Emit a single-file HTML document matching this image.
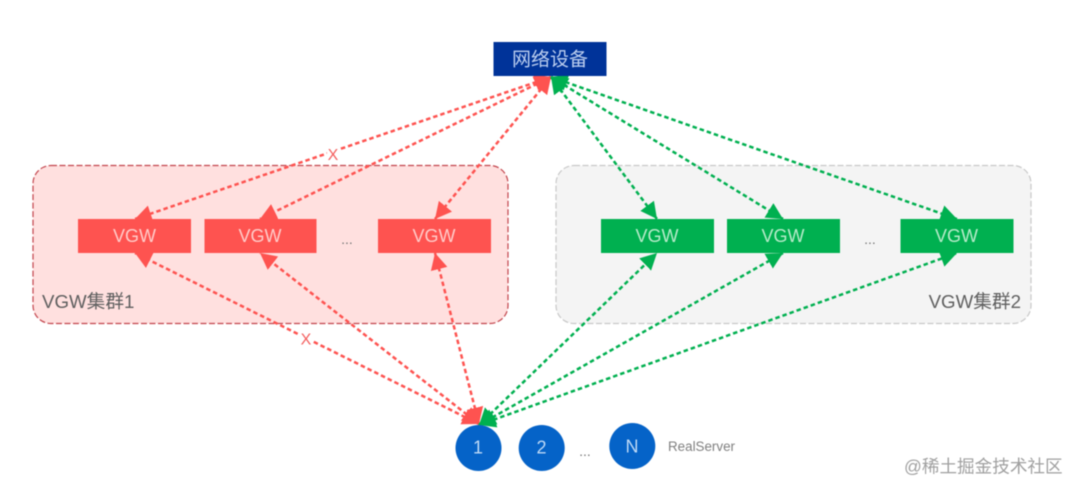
<!DOCTYPE html>
<html lang="zh">
<head>
<meta charset="utf-8">
<title>VGW集群</title>
<style>
html,body{margin:0;padding:0;background:#fff}
svg{display:block;filter:blur(.4px)}
text{font-family:"Liberation Sans","Noto Sans CJK SC",sans-serif}
</style>
</head>
<body>
<svg width="1080" height="493" viewBox="0 0 1080 493" xmlns="http://www.w3.org/2000/svg">
<defs>
<marker id="r" markerUnits="userSpaceOnUse" markerWidth="18" markerHeight="20" refX="16.500" refY="10" orient="auto-start-reverse"><path d="M0,1.500 L16.500,10 L0,18.500 Z" fill="#fe5350"/></marker>
<marker id="g" markerUnits="userSpaceOnUse" markerWidth="18" markerHeight="20" refX="16.500" refY="10" orient="auto-start-reverse"><path d="M0,1.500 L16.500,10 L0,18.500 Z" fill="#00b050"/></marker>
</defs>
<rect width="1080" height="493" fill="#fff"/>

<rect x="33" y="165.500" width="475" height="158" rx="18" fill="#ffe0df" stroke="#c2444c" stroke-width="1.200" stroke-dasharray="6 2.500"/>
<rect x="556" y="165.500" width="475" height="158" rx="18" fill="#f4f4f4" stroke="#c8c8c8" stroke-width="1.200" stroke-dasharray="6 2.500"/>

<g fill="none" stroke="#fe5350" stroke-width="2.500" stroke-dasharray="4.500 3" marker-start="url(#r)" marker-end="url(#r)">
<line x1="551" y1="77" x2="135" y2="219"/>
<line x1="551" y1="77" x2="260" y2="219"/>
<line x1="551" y1="77" x2="435" y2="219"/>
<line x1="479" y1="424" x2="135" y2="253"/>
<line x1="479" y1="424" x2="260" y2="253"/>
<line x1="479" y1="424" x2="435" y2="253"/>
</g>
<g fill="none" stroke="#00b050" stroke-width="2.500" stroke-dasharray="4.500 3" marker-start="url(#g)" marker-end="url(#g)">
<line x1="551" y1="77" x2="657" y2="219"/>
<line x1="551" y1="77" x2="783" y2="219"/>
<line x1="551" y1="77" x2="957" y2="219"/>
<line x1="479" y1="425" x2="657" y2="253"/>
<line x1="479" y1="425" x2="783" y2="253"/>
<line x1="479" y1="425" x2="957" y2="253"/>
</g>

<rect x="493.500" y="42" width="113" height="34" fill="#003399"/>
<text x="550" y="65.500" font-size="19" fill="#bccff0" text-anchor="middle">网络设备</text>

<g fill="#fe5350">
<rect x="78" y="219" width="113" height="34"/>
<rect x="204.500" y="219" width="112" height="34"/>
<rect x="378" y="219" width="113" height="34"/>
</g>
<g fill="#00b050">
<rect x="601" y="219" width="113" height="34"/>
<rect x="727" y="219" width="113" height="34"/>
<rect x="900.500" y="219" width="113" height="34"/>
</g>
<g font-size="18" text-anchor="middle">
<g fill="#ffcbc8">
<text x="134.500" y="242">VGW</text>
<text x="260" y="242">VGW</text>
<text x="434" y="242">VGW</text>
</g>
<g fill="#b5ebc9">
<text x="657" y="242">VGW</text>
<text x="783" y="242">VGW</text>
<text x="956.500" y="242">VGW</text>
</g>
</g>

<text x="42" y="308" font-size="18.700" fill="#5f5f5f">VGW集群1</text>
<text x="1021" y="308" font-size="18.700" fill="#5f5f5f" text-anchor="end">VGW集群2</text>

<rect x="327" y="147" width="12" height="13" fill="#fff"/>
<rect x="300" y="332" width="12" height="13" fill="#fff"/>
<text x="333" y="160" font-size="16" fill="#f4605f" text-anchor="middle">X</text>
<text x="306" y="344.500" font-size="16" fill="#f4605f" text-anchor="middle">X</text>

<g font-size="14" fill="#777" text-anchor="middle">
<text x="347" y="244">...</text>
<text x="870" y="244">...</text>
<text x="585" y="456">...</text>
</g>

<g fill="#0563c8">
<circle cx="478.500" cy="448" r="23"/>
<circle cx="541.700" cy="448" r="23"/>
<circle cx="632.300" cy="446" r="23"/>
</g>
<g font-size="18" fill="#bcd8f6" text-anchor="middle">
<text x="478" y="453.500">1</text>
<text x="541.500" y="453.500">2</text>
<text x="632" y="452.500">N</text>
</g>
<text x="668" y="451" font-size="13.400" fill="#808080">RealServer</text>

<text x="904" y="472.500" font-size="17.600" fill="#a0a0a0">@稀土掘金技术社区</text>
</svg>
</body>
</html>
